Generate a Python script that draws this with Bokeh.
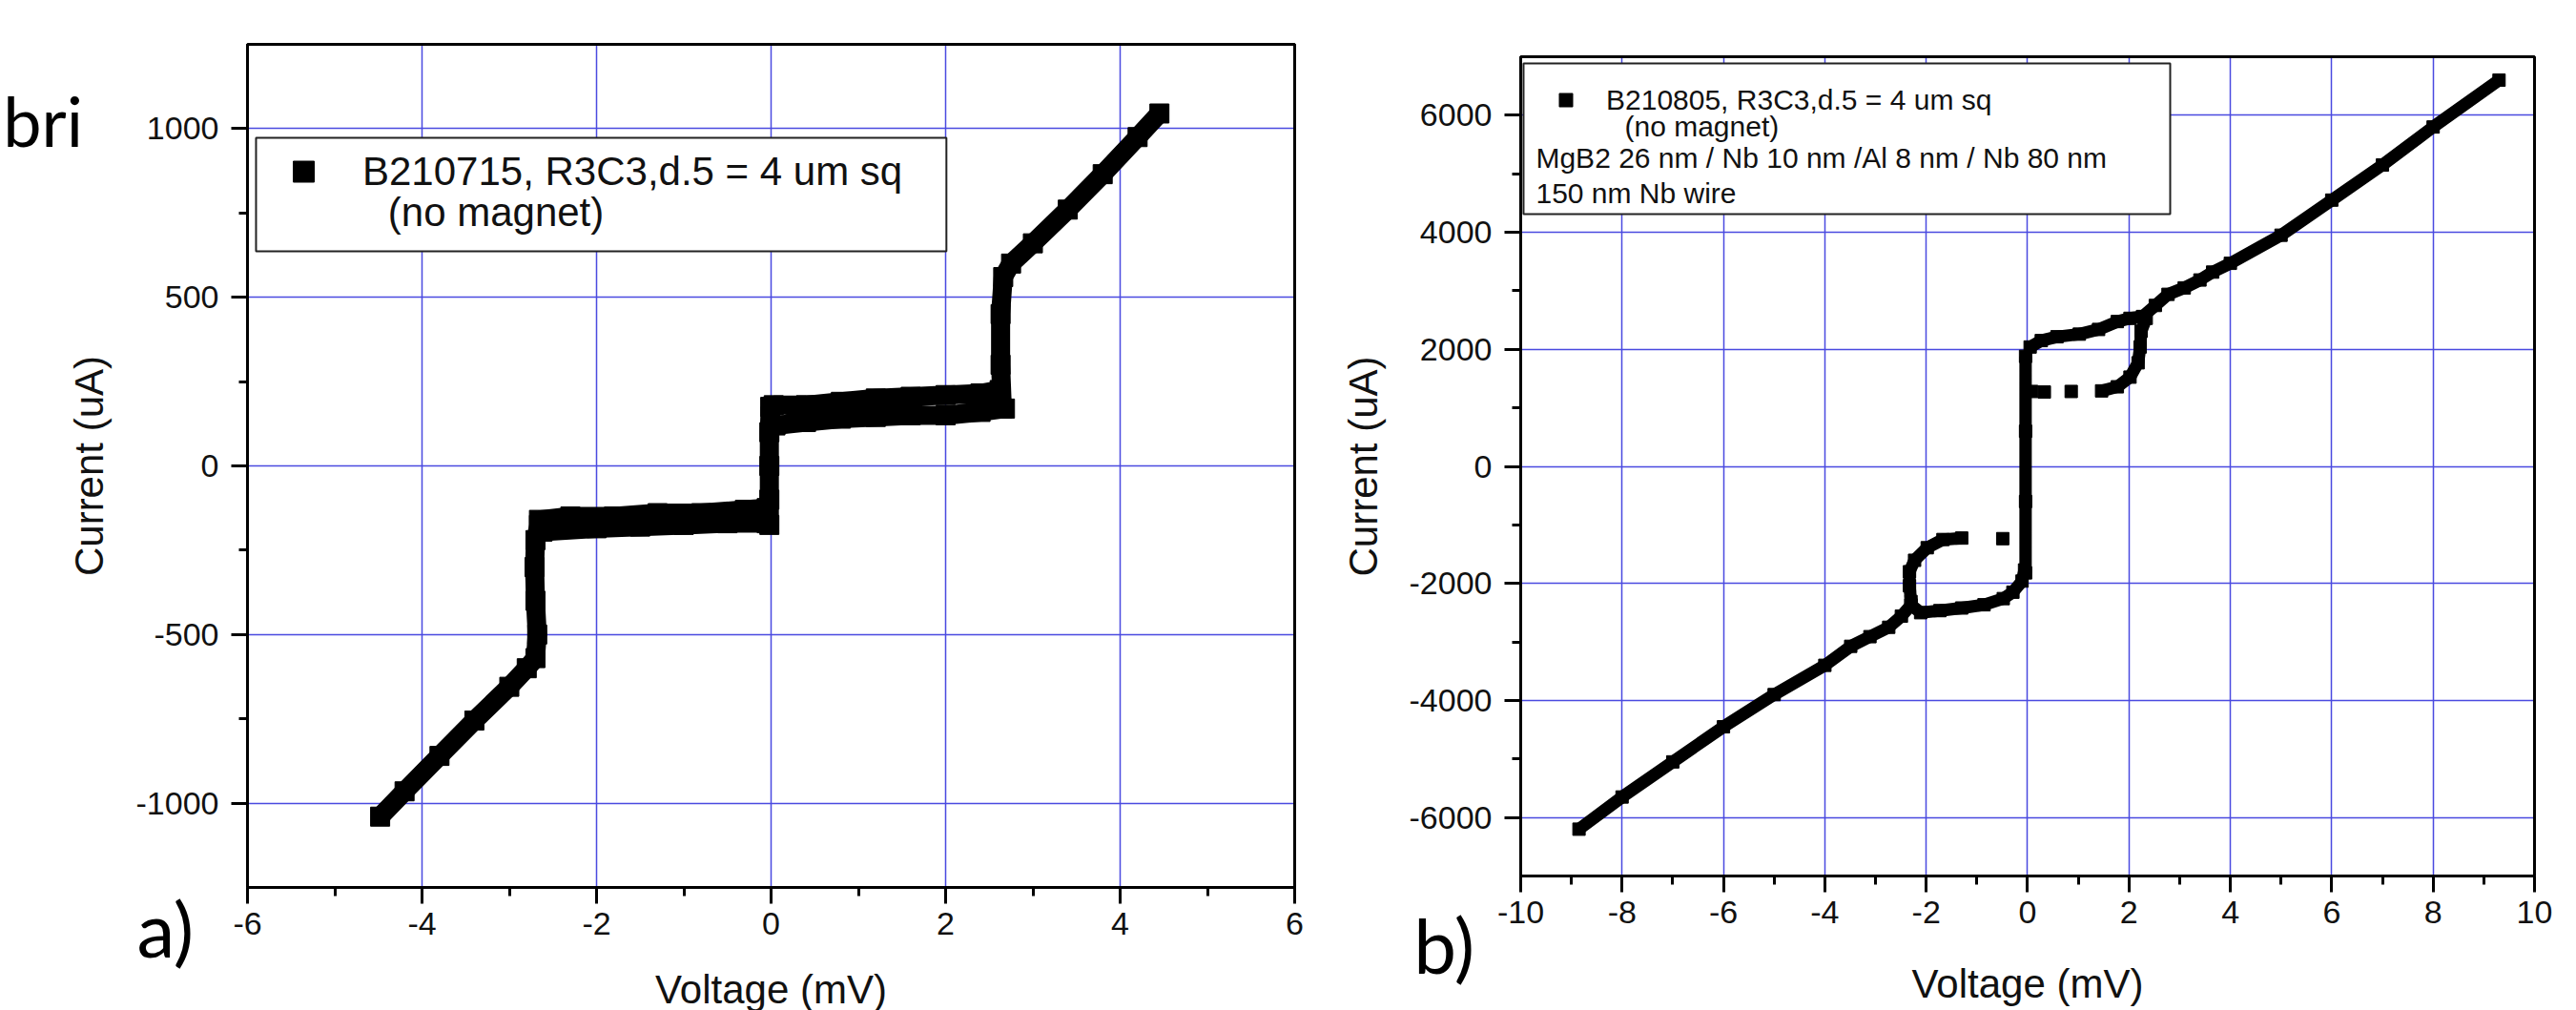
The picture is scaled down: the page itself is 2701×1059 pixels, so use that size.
from bokeh.plotting import figure
from bokeh.layouts import row
from bokeh.models import (FixedTicker, Legend, LegendItem, Label, BoxAnnotation,
                          Range1d, ColumnDataSource)
from bokeh.embed import file_html
from bokeh.resources import INLINE

nan = float("nan")

# ---------------- data: panel a) (B210715) ----------------
a_voltage = [
    -4.48, -4.2, -3.8, -3.4, -3.0, -2.8, -2.7, -2.68, -2.70, -2.71, -2.70, -2.66, nan,
    -2.66, -2.3, -1.8, -1.3, -0.8, -0.3, -0.05, nan,
    -2.62, -2.0, -1.5, -1.0, -0.5, -0.05, nan,
    -0.02, -0.02, -0.02, -0.02, -0.01, nan,
    0.03, 0.4, 0.8, 1.2, 1.6, 2.0, 2.4, 2.62, nan,
    0.05, 0.4, 0.8, 1.2, 1.6, 2.0, 2.4, 2.68, nan,
    2.65, 2.63, 2.63, 2.66, 2.75, 3.0, 3.4, 3.8, 4.2, 4.45,
]
a_current = [
    -1040, -965, -860, -755, -655, -600, -570, -500, -400, -300, -220, -175, nan,
    -160, -150, -150, -140, -140, -130, -125, nan,
    -195, -185, -180, -175, -170, -170, nan,
    -175, -100, 0, 100, 175, nan,
    180, 180, 190, 200, 205, 210, 215, 225, nan,
    120, 130, 140, 145, 150, 150, 160, 170, nan,
    170, 300, 450, 560, 600, 660, 760, 865, 975, 1045,
]

# ---------------- data: panel b) (B210805) ----------------
b_voltage = [
    -8.85, -8.0, -7.0, -6.0, -5.0, -4.0, -3.49, -3.11, -2.74, -2.49, -2.30, nan,
    -2.30, -2.11, -1.73, -1.30, -0.86, -0.48, -0.29, -0.11, -0.06, nan,
    -0.04, -0.04, -0.04, -0.04, nan,
    0.05, 0.27, 0.58, 1.02, 1.40, 1.77, 2.02, 2.27, nan,
    2.27, 2.52, 2.77, 3.09, 3.40, 3.65, 4.0, 5.0, 6.0, 7.0, 8.0, 9.3, nan,
    2.34, 2.24, 2.22, 2.18, 2.02, 1.77, 1.46, nan,
    0.86, nan, 0.33, nan, 0.08, nan,
    -2.30, -2.33, -2.33, -2.23, -1.98, -1.67, -1.30, nan,
    -0.49,
]
b_current = [
    -6200, -5650, -5050, -4450, -3900, -3400, -3075, -2910, -2750, -2560, -2370, nan,
    -2370, -2500, -2465, -2420, -2365, -2260, -2150, -1960, -1770, nan,
    -1820, -600, 600, 1880, nan,
    2040, 2150, 2215, 2260, 2340, 2475, 2530, 2560, nan,
    2560, 2750, 2940, 3050, 3185, 3320, 3470, 3950, 4550, 5150, 5800, 6600, nan,
    2530, 2310, 2040, 1770, 1525, 1360, 1290, nan,
    1280, nan, 1270, nan, 1280, nan,
    -2310, -2040, -1800, -1605, -1390, -1250, -1225, nan,
    -1235,
]

a_x_ticks = [-6, -4, -2, 0, 2, 4, 6]
a_x_minor = [-5, -3, -1, 1, 3, 5]
a_y_ticks = [-1000, -500, 0, 500, 1000]
a_y_minor = [-750, -250, 250, 750]
b_x_ticks = [-10, -8, -6, -4, -2, 0, 2, 4, 6, 8, 10]
b_x_minor = [-9, -7, -5, -3, -1, 1, 3, 5, 7, 9]
b_y_ticks = [-6000, -4000, -2000, 0, 2000, 4000, 6000]
b_y_minor = [-5000, -3000, -1000, 1000, 3000, 5000]

a_legend = "B210715, R3C3,d.5 = 4 um sq"
b_legend = "B210805, R3C3,d.5 = 4 um sq"

FONT = "Liberation Sans"
GRID = "#4a4ae0"


def style(p, xlim, ylim, xt, xm, yt, ym):
    p.xaxis.ticker = FixedTicker(ticks=xt, minor_ticks=xm)
    p.yaxis.ticker = FixedTicker(ticks=yt, minor_ticks=ym)
    p.xaxis.major_label_overrides = {t: str(t) for t in xt}
    p.yaxis.major_label_overrides = {t: str(t) for t in yt}
    # axes drawn at the edges of the data box
    p.xaxis.fixed_location = ylim[0]
    p.yaxis.fixed_location = xlim[0]
    p.xaxis.bounds = xlim
    p.yaxis.bounds = ylim
    for ax in (p.xaxis[0], p.yaxis[0]):
        ax.axis_line_width = 3
        ax.major_tick_line_width = 3
        ax.minor_tick_line_width = 3
        ax.major_tick_in = 0
        ax.major_tick_out = 17
        ax.minor_tick_in = 0
        ax.minor_tick_out = 9
        ax.major_label_text_font = FONT
        ax.major_label_text_font_size = "34px"
        ax.major_label_text_color = "#111111"
        ax.axis_label_text_font = FONT
        ax.axis_label_text_font_size = "42px"
        ax.axis_label_text_font_style = "normal"
        ax.axis_label_text_color = "#111111"
    p.xaxis.major_label_standoff = 9
    p.yaxis.major_label_standoff = 13
    for g in (p.xgrid[0], p.ygrid[0]):
        g.grid_line_color = GRID
        g.grid_line_width = 1.5
    p.xgrid.bounds = xlim
    p.ygrid.bounds = ylim
    try:
        p.xgrid.cross_bounds = ylim
        p.ygrid.cross_bounds = xlim
    except Exception:
        pass
    p.outline_line_color = None
    p.add_layout(BoxAnnotation(left=xlim[0], right=xlim[1], bottom=ylim[0],
                               top=ylim[1], fill_alpha=0, line_color="black",
                               line_width=3, line_alpha=1))


# ---------------- figure a ----------------
A_X = (-6, 6)
A_Y = (-1250, 1250)
pa = figure(width=1400, height=1059, output_backend="svg", toolbar_location=None,
            x_range=Range1d(-8.8306, 6.4699), y_range=Range1d(-1614.8, 1380.1),
            min_border=0, x_axis_label="Voltage (mV)",
            y_axis_label="Current (uA)", background_fill_color="white",
            border_fill_color="white")
style(pa, A_X, A_Y, a_x_ticks, a_x_minor, a_y_ticks, a_y_minor)
pa.xaxis.axis_label_standoff = 31
pa.yaxis.axis_label_standoff = 23

src_a = ColumnDataSource(dict(v=a_voltage, i=a_current))
pa.line("v", "i", source=src_a, line_color="black", line_width=20)
ra = pa.scatter("v", "i", source=src_a, marker="square", size=20,
                fill_color="black", line_color="black")

pa.add_layout(BoxAnnotation(left=-5.902, right=2.009, bottom=636, top=973,
                            fill_color="white", fill_alpha=1, line_color="#222222",
                            line_width=2, line_alpha=1))
pa.add_layout(Legend(items=[LegendItem(label=a_legend, renderers=[ra])],
                     location=(268, 844), padding=8, margin=0, spacing=0,
                     glyph_width=84, glyph_height=55, label_standoff=20,
                     label_text_font=FONT, label_text_font_size="42px",
                     label_text_color="#111111",
                     border_line_alpha=0, background_fill_alpha=0))
pa.add_layout(Label(x=-4.39, y=752, text="(no magnet)", text_font=FONT,
                    text_font_size="42px", text_baseline="middle",
                    text_color="#111111"))
pa.add_layout(Label(x=-7.268, y=-1371, text="a)", text_font="Lato",
                    text_font_size="80px", text_baseline="alphabetic",
                    text_color="black"))
pa.add_layout(Label(x=-8.80, y=1024, text="bri", text_font="Lato",
                    text_font_size="72px", text_baseline="alphabetic",
                    text_color="black"))

# ---------------- figure b ----------------
B_X = (-10, 10)
B_Y = (-7000, 7000)
pb = figure(width=1301, height=1059, output_backend="svg", toolbar_location=None,
            x_range=Range1d(-13.650, 10.828), y_range=Range1d(-9298.0, 7961.6),
            min_border=0, x_axis_label="Voltage (mV)",
            y_axis_label="Current (uA)", background_fill_color="white",
            border_fill_color="white")
style(pb, B_X, B_Y, b_x_ticks, b_x_minor, b_y_ticks, b_y_minor)
pb.xaxis.axis_label_standoff = 37
pb.yaxis.axis_label_standoff = 22

src_b = ColumnDataSource(dict(v=b_voltage, i=b_current))
pb.line("v", "i", source=src_b, line_color="black", line_width=13)
rb = pb.scatter("v", "i", source=src_b, marker="square", size=13,
                fill_color="black", line_color="black")

pb.add_layout(BoxAnnotation(left=-9.944, right=2.813, bottom=4311, top=6886,
                            fill_color="white", fill_alpha=1, line_color="#222222",
                            line_width=2, line_alpha=1))
pb.add_layout(Legend(items=[LegendItem(label=b_legend, renderers=[rb])],
                     location=(197, 917), padding=20, margin=0, spacing=0,
                     glyph_width=49, glyph_height=35, label_standoff=18,
                     label_text_font=FONT, label_text_font_size="30px",
                     label_text_color="#111111",
                     border_line_alpha=0, background_fill_alpha=0))
for x, y, t in [(-7.95, 5810, "(no magnet)"),
                (-9.70, 5273, "MgB2 26 nm / Nb 10 nm /Al 8 nm / Nb 80 nm"),
                (-9.70, 4670, "150 nm Nb wire")]:
    pb.add_layout(Label(x=x, y=y, text=t, text_font=FONT,
                        text_font_size="30px", text_baseline="middle",
                        text_color="#111111"))
pb.add_layout(Label(x=-12.11, y=-8173, text="b)", text_font="Lato",
                    text_font_size="80px", text_baseline="alphabetic",
                    text_color="black"))

layout = row(pa, pb)
open("out.html", "w").write(file_html(layout, INLINE))
